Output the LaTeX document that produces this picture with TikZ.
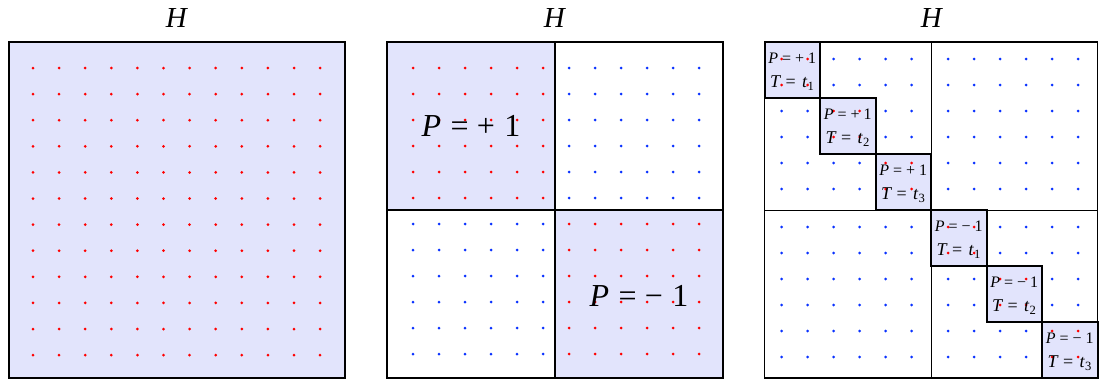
\documentclass[tikz,border=0pt]{standalone}
\usepackage{fontspec}
\setmainfont{Liberation Serif}
\definecolor{lavfill}{RGB}{226,228,252}
\definecolor{dotred}{RGB}{255,0,0}
\definecolor{dotblue}{RGB}{10,50,255}
\tikzset{
  titlelbl/.style={font=\fontsize{29}{30}\selectfont, anchor=base, inner sep=0pt},
  biglbl/.style={font=\fontsize{32}{34}\selectfont, anchor=base, inner sep=0pt},
  smalltop/.style={font=\fontsize{16}{18}\selectfont, anchor=base, inner sep=0pt},
  smallbot/.style={font=\fontsize{18}{20}\selectfont, anchor=base, inner sep=0pt},
  thickbox/.style={draw=black, line width=2pt},
  thinline/.style={draw=black, line width=1pt},
  dotr/.style={fill=dotred},
  dotb/.style={fill=dotblue}
}
\begin{document}
\begin{tikzpicture}[x=1pt,y=-1pt]
\useasboundingbox (0,0) rectangle (1099,381);

% ---------- Panel 1 ----------
\fill[lavfill] (9,42) rectangle (345,378);
\foreach \i in {0,...,11} {
  \foreach \j in {0,...,11} {
    \fill[dotr] ({33+26.1*\i},{68+26.1*\j}) circle (1.5pt);
  }
}
\draw[line width=2.4pt] (9,42) rectangle (345,378);
\node[titlelbl] (h1) at (177,27) {\textit{H}};

% ---------- Panel 2 ----------
\fill[lavfill] (387,42) rectangle (555,210);
\fill[lavfill] (555,210) rectangle (723,378);
\foreach \i in {1,...,12} {
  \foreach \j in {1,...,12} {
    \pgfmathtruncatemacro{\qa}{(\i>6)}
    \pgfmathtruncatemacro{\qb}{(\j>6)}
    \ifnum\qa=\qb \def\dc{dotr}\else\def\dc{dotb}\fi
    \fill[\dc] ({387+26*\i},{42+26*\j}) circle (1.5pt);
  }
}
\node[biglbl] (p2a) at (471,136) {\textit{P}\hspace{0.3em}=\hspace{0.25em}+\hspace{0.3em}1};
\node[biglbl] (p2b) at (639,306) {\textit{P}\hspace{0.3em}=\hspace{0.25em}−\hspace{0.3em}1};
\draw[line width=1.6pt] (387,42) rectangle (723,378);
\draw[thinline, line width=1.3pt] (555,42) -- (555,378);
\draw[thinline, line width=1.3pt] (387,210) -- (723,210);
\draw[thickbox] (387,42) rectangle (555,210);
\draw[thickbox] (555,210) rectangle (723,378);
\node[titlelbl] (h2) at (555,27) {\textit{H}};

% ---------- Panel 3 ----------
\foreach \m in {0,...,5} {
  \fill[lavfill] ({764.5+55.5*\m},{42+56*\m}) rectangle ({764.5+55.5*(\m+1)},{42+56*(\m+1)});
}
\foreach \qx/\qy/\dg in {764.5/42/1, 931/42/0, 764.5/210/0, 931/210/1} {
  \foreach \a in {0,...,5} {
    \foreach \b in {0,...,5} {
      \pgfmathtruncatemacro{\ba}{\a/2}
      \pgfmathtruncatemacro{\bb}{\b/2}
      \pgfmathtruncatemacro{\isred}{\dg*(\ba==\bb)}
      \ifnum\isred=1 \def\dc{dotr}\else\def\dc{dotb}\fi
      \fill[\dc] ({\qx+17+26*\a},{\qy+17+26*\b}) circle (1.5pt);
    }
  }
}
\foreach \m/\sg/\k in {0/+/1, 1/+/2, 2/+/3, 3/−/1, 4/−/2, 5/−/3} {
  \node[smalltop] (pt\m) at ({764.5+55.5*(\m+0.5)},{42+56*\m+21.5}) {\textit{P} = \sg{} 1};
  \node[smallbot] (tt\m) at ({764.5+55.5*(\m+0.5)},{42+56*\m+45.5}) {\textit{T} =\hspace{0.35em}\textit{t}\textsubscript{\k}};
}
\draw[line width=1.6pt] (764.5,42) rectangle (1097.5,378);
\draw[thinline] (931,42) -- (931,378);
\draw[thinline] (764.5,210) -- (1097.5,210);
\foreach \m in {0,...,5} {
  \draw[thickbox] ({764.5+55.5*\m},{42+56*\m}) rectangle ({764.5+55.5*(\m+1)},{42+56*(\m+1)});
}
\node[titlelbl] (h3) at (932,27) {\textit{H}};
\end{tikzpicture}
\end{document}
